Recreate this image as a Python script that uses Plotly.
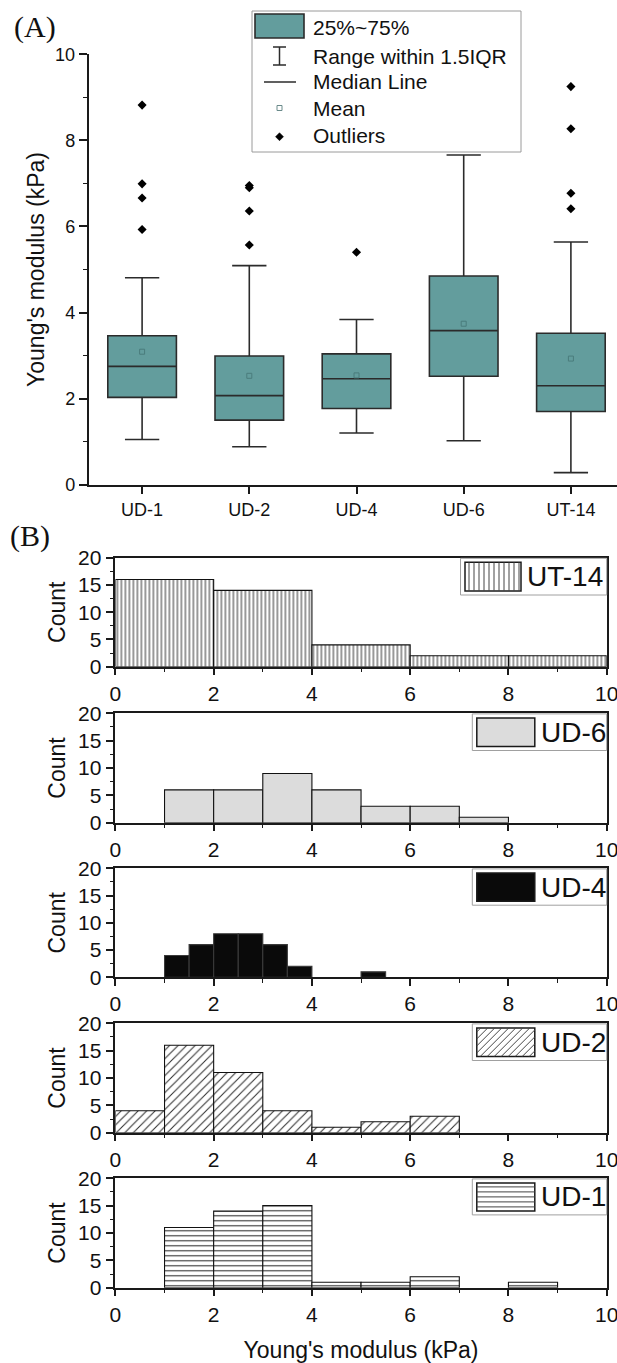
import plotly.graph_objects as go

W, H = 617, 1363

# ---------------- (A) box plot summary statistics ----------------
groups = ["UD-1", "UD-2", "UD-4", "UD-6", "UT-14"]
q1 = [2.03, 1.50, 1.77, 2.52, 1.70]
median = [2.75, 2.07, 2.46, 3.58, 2.30]
q3 = [3.46, 2.99, 3.04, 4.85, 3.52]
lower_whisker = [1.05, 0.88, 1.20, 1.02, 0.28]
upper_whisker = [4.81, 5.09, 3.84, 7.66, 5.64]
means = [3.09, 2.53, 2.54, 3.74, 2.93]

outlier_group = ["UD-1"] * 4 + ["UD-2"] * 4 + ["UD-4"] + ["UT-14"] * 4
outlier_value = [8.82, 6.99, 6.66, 5.93,
                 6.95, 6.90, 6.36, 5.57,
                 5.40,
                 9.25, 8.27, 6.77, 6.41]

# ---------------- (B) histograms: bin left edges, bin width, counts ----------------
ut14_left, ut14_width, ut14_count = [0, 2, 4, 6, 8], 2.0, [16, 14, 4, 2, 2]
ud6_left, ud6_width, ud6_count = [1, 2, 3, 4, 5, 6, 7], 1.0, [6, 6, 9, 6, 3, 3, 1]
ud4_left, ud4_width, ud4_count = [1, 1.5, 2, 2.5, 3, 3.5, 5], 0.5, [4, 6, 8, 8, 6, 2, 1]
ud2_left, ud2_width, ud2_count = [0, 1, 2, 3, 4, 5, 6], 1.0, [4, 16, 11, 4, 1, 2, 3]
ud1_left, ud1_width, ud1_count = [1, 2, 3, 4, 5, 6, 8], 1.0, [11, 14, 15, 1, 1, 2, 1]

hist_names = ["UT-14", "UD-6", "UD-4", "UD-2", "UD-1"]
hist_left = [ut14_left, ud6_left, ud4_left, ud2_left, ud1_left]
hist_width = [ut14_width, ud6_width, ud4_width, ud2_width, ud1_width]
hist_count = [ut14_count, ud6_count, ud4_count, ud2_count, ud1_count]

TEAL = "#639d9d"
EDGE = "#2b2b2b"
AXC = "#1a1a1a"
FONT = "Liberation Sans, Arial, sans-serif"
SERIF = "Liberation Serif, Times New Roman, serif"

HX0, HX1 = 115.4, 606.7   # pixel extent of the histogram panels


def fx(p):
    return p / W


def fy(p):
    return 1 - p / H


fig = go.Figure()

# box plot
fig.add_trace(go.Box(
    x=groups, q1=q1, median=median, q3=q3,
    lowerfence=lower_whisker, upperfence=upper_whisker,
    fillcolor=TEAL, line=dict(color=EDGE, width=1.6),
    whiskerwidth=0.5, width=0.64, boxpoints=False,
    hoverinfo="skip", showlegend=False, xaxis="x", yaxis="y"))
fig.add_trace(go.Scatter(
    x=groups, y=means, mode="markers",
    marker=dict(symbol="square-open", size=5, color="#4a7c7c", line=dict(width=1)),
    showlegend=False, xaxis="x", yaxis="y"))
fig.add_trace(go.Scatter(
    x=outlier_group, y=outlier_value, mode="markers",
    marker=dict(symbol="diamond", size=7, color="black"),
    showlegend=False, xaxis="x", yaxis="y"))

# histogram styles (fill colour, pattern)
hist_style = {
    "UT-14": dict(color="white", pattern=dict(shape="|", fgcolor="#333", bgcolor="white",
                                              size=4, solidity=0.25, fillmode="replace")),
    "UD-6": dict(color="#dcdcdc"),
    "UD-4": dict(color="#0a0a0a"),
    "UD-2": dict(color="white", pattern=dict(shape="/", fgcolor="#333", bgcolor="white",
                                             size=6, solidity=0.18, fillmode="replace")),
    "UD-1": dict(color="white", pattern=dict(shape="-", fgcolor="#333", bgcolor="white",
                                             size=5, solidity=0.22, fillmode="replace")),
}

for i, name in enumerate(hist_names):
    k = i + 2
    mk = dict(hist_style[name])
    mk["line"] = dict(color="#111" if name != "UD-4" else "#3a3a3a", width=1.1)
    fig.add_trace(go.Bar(
        x=hist_left[i], y=hist_count[i], width=hist_width[i], offset=0,
        marker=mk, showlegend=False, hoverinfo="skip",
        xaxis=f"x{k}", yaxis=f"y{k}"))

# ---------------- layout / axes ----------------
layout = dict(
    width=W, height=H, margin=dict(l=0, r=0, t=0, b=0, autoexpand=False),
    paper_bgcolor="white", plot_bgcolor="white", showlegend=False,
    font=dict(family=FONT, color="#111"),
)

layout["xaxis"] = dict(
    domain=[fx(88.5), 1.0], range=[-0.5, 4.43], type="category", automargin=False,
    showline=True, linecolor=AXC, linewidth=1.5, ticks="outside", ticklen=8,
    tickwidth=1.5, tickcolor=AXC, tickfont=dict(size=18, family=FONT),
    showgrid=False, zeroline=False, anchor="y")
layout["yaxis"] = dict(
    domain=[fy(484.7), fy(54.3)], range=[0, 10], dtick=2, tick0=0, automargin=False,
    showline=True, linecolor=AXC, linewidth=1.5, ticks="outside", ticklen=8,
    tickwidth=1.5, tickcolor=AXC, tickfont=dict(size=18, family=FONT),
    minor=dict(dtick=1, ticks="outside", ticklen=4, tickwidth=1.2, tickcolor=AXC),
    showgrid=False, zeroline=False, anchor="x",
    title=dict(text="Young's modulus (kPa)", font=dict(size=23, family=FONT), standoff=4))

hist_top = [557.7, 713.3, 868.3, 1023.3, 1178.3]
hist_bottom = [666.7, 822.7, 977.3, 1132.7, 1287.7]
for i in range(5):
    k = i + 2
    xa = dict(
        domain=[fx(HX0), fx(HX1)], range=[0, 10], dtick=2, tick0=0, automargin=False,
        showline=True, mirror=True, linecolor=AXC, linewidth=1.5,
        ticks="outside", ticklen=7, tickwidth=1.5, tickcolor=AXC,
        tickfont=dict(size=21, family=FONT), ticklabeloverflow="allow",
        minor=dict(dtick=1, ticks="outside", ticklen=4, tickwidth=1.2, tickcolor=AXC),
        showgrid=False, zeroline=False, anchor=f"y{k}")
    if i == 4:
        xa["title"] = dict(text="Young's modulus (kPa)", font=dict(size=23, family=FONT), standoff=22)
    ya = dict(
        domain=[fy(hist_bottom[i]), fy(hist_top[i])], range=[0, 20], dtick=5, tick0=0,
        automargin=False,
        showline=True, mirror=True, linecolor=AXC, linewidth=1.5,
        ticks="outside", ticklen=8, tickwidth=1.5, tickcolor=AXC,
        tickfont=dict(size=21, family=FONT),
        minor=dict(dtick=2.5, ticks="outside", ticklen=4, tickwidth=1.2, tickcolor=AXC),
        showgrid=False, zeroline=False, anchor=f"x{k}",
        title=dict(text="Count", font=dict(size=23, family=FONT), standoff=6))
    layout[f"xaxis{k}"] = xa
    layout[f"yaxis{k}"] = ya

fig.update_layout(**layout)

shapes = []
annotations = []


def rect(x0, y0, x1, y1, fill, line_color, lw):
    shapes.append(dict(type="rect", xref="paper", yref="paper",
                       x0=fx(x0), x1=fx(x1), y0=fy(y1), y1=fy(y0),
                       fillcolor=fill, line=dict(color=line_color, width=lw), layer="above"))


def seg(x0, y0, x1, y1, color, lw):
    shapes.append(dict(type="line", xref="paper", yref="paper",
                       x0=fx(x0), x1=fx(x1), y0=fy(y0), y1=fy(y1),
                       line=dict(color=color, width=lw), layer="above"))


def text(x, y, s, size, family=FONT, xanchor="left"):
    annotations.append(dict(xref="paper", yref="paper", x=fx(x), y=fy(y), text=s,
                            showarrow=False, xanchor=xanchor, yanchor="middle",
                            font=dict(size=size, family=family, color="#111")))


# panel letters
text(12, 27, "(A)", 30, SERIF)
text(8, 536, "(B)", 30, SERIF)

# legend of panel A
rect(252, 11, 521, 152, "white", "#9a9a9a", 1)
rect(255, 14, 304, 38, TEAL, EDGE, 1.6)
text(311, 27, "25%~75%", 21)
seg(279.5, 47, 279.5, 65, EDGE, 1.5)
seg(273, 47, 286, 47, EDGE, 1.5)
seg(273, 65, 286, 65, EDGE, 1.5)
text(311, 56, "Range within 1.5IQR", 21)
seg(264, 82, 296, 82, EDGE, 1.5)
text(311, 82, "Median Line", 21)
rect(277, 105.5, 282, 110.5, "white", "#6a8a8a", 1)
text(311, 108, "Mean", 21)
shapes.append(dict(type="path", xref="paper", yref="paper",
                   path=(f"M{fx(279.5)},{fy(132.7)} L{fx(283.5)},{fy(136.7)} "
                         f"L{fx(279.5)},{fy(140.7)} L{fx(275.5)},{fy(136.7)} Z"),
                   fillcolor="black", line=dict(color="black", width=0.5), layer="above"))
text(311, 136, "Outliers", 21)

# legends of panel B (boxes anchored to the top-right corner of each panel)
leg_left = [460.5, 472.3, 472.3, 472.3, 472.3]
leg_height = [36.7, 36.6, 36.3, 36.6, 36.0]
for i, name in enumerate(hist_names):
    bx0, by0, bx1 = leg_left[i], hist_top[i] + 0.6, HX1
    by1 = by0 + leg_height[i]
    sx0, sy0 = bx0 + 4.5, by0 + 4
    sx1, sy1 = sx0 + (56 if name == "UT-14" else 58), by1 - 4
    rect(bx0, by0, bx1, by1, "white", "#a0a0a0", 1)
    fill = {"UD-6": "#dcdcdc", "UD-4": "#0a0a0a"}.get(name, "white")
    rect(sx0, sy0, sx1, sy1, fill, "#1a1a1a", 1.5)
    if name == "UT-14":
        xx = sx0 + 4
        while xx < sx1 - 1:
            seg(xx, sy0, xx, sy1, "#444", 1)
            xx += 5
    elif name == "UD-1":
        yy = sy0 + 4
        while yy < sy1 - 1:
            seg(sx0, yy, sx1, yy, "#444", 1)
            yy += 5
    elif name == "UD-2":
        kk = sx0 + sy0 + 4
        while kk < sx1 + sy1:
            lo = max(sx0, kk - sy1)
            hi = min(sx1, kk - sy0)
            if hi - lo > 0.5:
                seg(lo, kk - lo, hi, kk - hi, "#444", 1)
            kk += 7
    text(sx1 + 4, (sy0 + sy1) / 2, name, 28)

fig.update_layout(shapes=shapes, annotations=annotations)
fig.write_html("out.html")
